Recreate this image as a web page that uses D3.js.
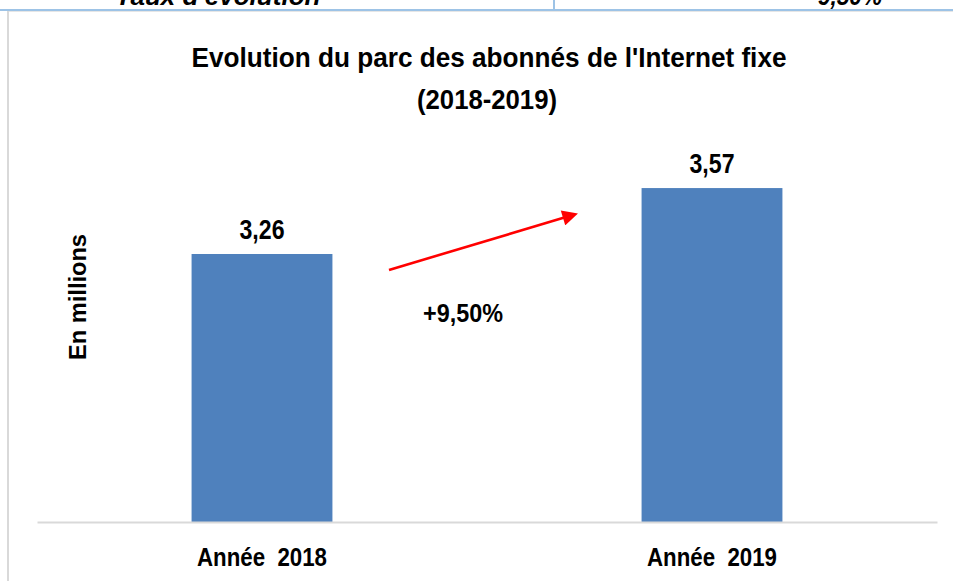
<!DOCTYPE html>
<html>
<head>
<meta charset="utf-8">
<script src="https://cdn.jsdelivr.net/npm/d3@7"></script>
<style>
html,body{margin:0;padding:0;background:#fff;}
svg{display:block;}
text{font-family:"Liberation Sans",Arial,sans-serif;font-weight:bold;fill:#000;white-space:pre;}
</style>
</head>
<body>
<svg id="chart" width="953" height="581"></svg>
<script>
// ---- data ----
const categories = ["Année  2018", "Année  2019"];
const values = [3.26, 3.57];
const valueLabels = ["3,26", "3,57"];
const growthLabel = "+9,50%";
const titleLines = ["Evolution du parc des abonnés de l'Internet fixe", "(2018-2019)"];
const yAxisTitle = "En millions";
const yDomain = [2, 4];
const tableFragment = ["Taux d'évolution", "9,50%"];

const svg = d3.select("#chart");
const W = 953, H = 581;
svg.append("rect").attr("width", W).attr("height", H).attr("fill", "#ffffff");

// fragment of the table above (cropped at the top edge, as in the source)
svg.append("text").attr("x", 218).attr("y", 5).attr("text-anchor", "middle")
  .style("font-style", "italic").style("font-size", "26px")
  .attr("textLength", 205).attr("lengthAdjust", "spacingAndGlyphs").text(tableFragment[0]);
svg.append("text").attr("x", 850).attr("y", 5).attr("text-anchor", "middle")
  .style("font-style", "italic").style("font-size", "26px")
  .attr("textLength", 64).attr("lengthAdjust", "spacingAndGlyphs").text(tableFragment[1]);
svg.append("rect").attr("x", 0).attr("y", 9).attr("width", W).attr("height", 2).attr("fill", "#9dc3e6");
svg.append("rect").attr("x", 553).attr("y", 0).attr("width", 2).attr("height", 10).attr("fill", "#9dc3e6");
svg.append("rect").attr("x", 7).attr("y", 11).attr("width", W - 7).attr("height", 1).attr("fill", "#e6e6e6");
svg.append("rect").attr("x", 7).attr("y", 11).attr("width", 2).attr("height", H - 11).attr("fill", "#d9d9d9");

// scales
const x = d3.scaleBand().domain(categories).range([37, 937]).paddingInner(0.687).paddingOuter(0.3435);
const y = d3.scaleLinear().domain(yDomain).range([522, 96.6]);

// bars
svg.append("g").selectAll("rect").data(values).join("rect")
  .attr("x", (d, i) => x(categories[i]))
  .attr("y", d => y(d))
  .attr("width", x.bandwidth())
  .attr("height", d => y(yDomain[0]) - y(d))
  .attr("fill", "#4f81bd");

// axis baseline
const xAxis = d3.axisBottom(x).tickSize(0).tickPadding(0);
const gx = svg.append("g").attr("transform", `translate(0,${y(yDomain[0])})`).call(xAxis);
gx.select(".domain").attr("stroke", "#d9d9d9").attr("stroke-width", 2);
gx.selectAll(".tick text")
  .attr("y", 44).attr("dy", null)
  .style("font-size", "26px").style("font-family", "\"Liberation Sans\",Arial,sans-serif").style("font-weight", "bold")
  .style("white-space", "pre")
  .attr("fill", "#000")
  .attr("textLength", 130).attr("lengthAdjust", "spacingAndGlyphs");

// value labels
svg.append("g").selectAll("text").data(values).join("text")
  .attr("x", (d, i) => x(categories[i]) + x.bandwidth() / 2)
  .attr("y", d => y(d) - 15)
  .attr("text-anchor", "middle")
  .style("font-size", "27px")
  .attr("textLength", 45).attr("lengthAdjust", "spacingAndGlyphs")
  .text((d, i) => valueLabels[i]);

// title
svg.append("text").attr("x", 489).attr("y", 67).attr("text-anchor", "middle")
  .style("font-size", "27px").attr("textLength", 595).attr("lengthAdjust", "spacingAndGlyphs")
  .text(titleLines[0]);
svg.append("text").attr("x", 487).attr("y", 109).attr("text-anchor", "middle")
  .style("font-size", "27px").attr("textLength", 140).attr("lengthAdjust", "spacingAndGlyphs")
  .text(titleLines[1]);

// y axis title
svg.append("text").attr("transform", "translate(86,297) rotate(-90)").attr("text-anchor", "middle")
  .style("font-size", "24px").attr("textLength", 126).attr("lengthAdjust", "spacingAndGlyphs")
  .text(yAxisTitle);

// growth arrow
const defs = svg.append("defs");
defs.append("marker").attr("id", "ah").attr("viewBox", "0 0 10 10").attr("refX", 2).attr("refY", 5)
  .attr("markerWidth", 6.5).attr("markerHeight", 6).attr("orient", "auto").attr("markerUnits", "strokeWidth")
  .append("path").attr("d", "M0,0 L10,5 L0,10 Z").attr("fill", "#ff0000");
svg.append("line").attr("x1", 389).attr("y1", 270).attr("x2", 566).attr("y2", 217)
  .attr("stroke", "#ff0000").attr("stroke-width", 2.6).attr("marker-end", "url(#ah)");

svg.append("text").attr("x", 463).attr("y", 322).attr("text-anchor", "middle")
  .style("font-size", "26px").attr("textLength", 80).attr("lengthAdjust", "spacingAndGlyphs")
  .text(growthLabel);
</script>
</body>
</html>
